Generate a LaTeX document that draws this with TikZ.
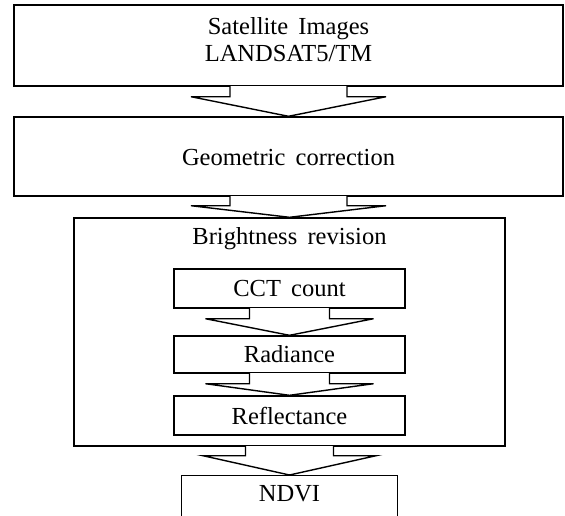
\documentclass[tikz,border=0pt]{standalone}
\usepackage{fontspec}
\setmainfont{Liberation Serif}
\usetikzlibrary{calc}
\newcommand{\reffont}{\fontsize{24.5}{27}\selectfont\spaceskip=0.42em\relax}
\tikzset{
  box/.style={draw=black, line width=1.4pt, fill=white, inner sep=0pt, align=center,
    font=\reffont},
  lbl/.style={inner sep=0pt, font=\reffont},
  arrowline/.style={draw=black, line width=1.4pt, line join=miter}
}
% #1 from, #2 to, #3 half shaft, #4 half head, #5 shaft length
\newcommand{\blkarrow}[5]{%
  \fill[white] ($(#1.south)+(-#3,1.2)$) rectangle ($(#1.south)+(#3,-#5)$);
  \draw[arrowline] ($(#1.south)+(-#3,0.7)$) -- ++(0,{-#5-0.7}) -- ++({-(#4-#3)},0)
     -- (#2.north) -- ($(#1.south)+(#4,-#5)$) -- ++({-(#4-#3)},0) -- ++(0,{#5+0.7});
}
\begin{document}
\begin{tikzpicture}[x=1pt,y=1pt]
\useasboundingbox (0,0) rectangle (565,-515);
\clip (0,0) rectangle (565,-515);
\node[box, minimum width=549, minimum height=81] (sat) at (288.5,-45.5) {};
\node[lbl, align=center] (sattext) at (288.5,-40) {Satellite Images\\LANDSAT5/TM};
\node[box, minimum width=549, minimum height=79] (geo) at (288.5,-156.5) {};
\node[lbl] (geotext) at (288.5,-158) {Geometric correction};
\node[box, minimum width=431, minimum height=228] (bright) at (289.5,-332) {};
\node[lbl] (brighttitle) at (289.5,-239) {Brightness revision};
\node[box, minimum width=231, minimum height=39] (cct) at (289.5,-288.5) {CCT count};
\node[box, minimum width=231, minimum height=37] (rad) at (289.5,-354.5) {Radiance};
\node[box, minimum width=231, minimum height=39] (refl) at (289.5,-415.5) {Reflectance};
\node[box, minimum width=216, minimum height=80, anchor=north] (ndvi) at (289.5,-475) {};
\node[lbl] (ndvitext) at (289.5,-494) {NDVI};
\blkarrow{sat}{geo}{58.5}{97.5}{10}
\blkarrow{geo}{bright}{58.5}{97.5}{9}
\blkarrow{cct}{rad}{40}{84}{10}
\blkarrow{rad}{refl}{40}{84}{10}
\blkarrow{bright}{ndvi}{44}{86.5}{9}
\end{tikzpicture}
\end{document}
